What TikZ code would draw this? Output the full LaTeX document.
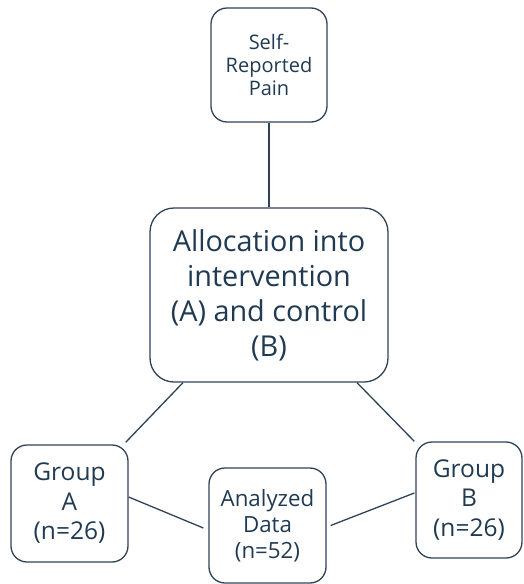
\documentclass[tikz,border=0pt]{standalone}
\usepackage{fontspec}
\setmainfont{Open Sans}
\definecolor{txt}{HTML}{1F3A52}
\definecolor{edge}{HTML}{2F4256}
\begin{document}
\begin{tikzpicture}[x=1pt,y=-1pt,
  box/.style={draw=edge, line width=1.3pt, rounded corners=16pt, align=center, text=txt, inner sep=2pt},
  conn/.style={draw=edge, line width=1.3pt}]
\useasboundingbox (0,0) rectangle (523,584);
\node[box, minimum width=116pt, minimum height=114pt, font=\fontsize{20}{23}\selectfont] (self) at (269,65) {Self-\\Reported\\Pain};
\node[box, rounded corners=24pt, minimum width=238pt, minimum height=174pt, font=\fontsize{28.8}{35}\selectfont] (alloc) at (269,295) {Allocation into\\intervention\\(A) and control\\(B)};
\node[box, minimum width=117pt, minimum height=117pt, font=\fontsize{24.5}{29.5}\selectfont] (ga) at (69.5,503.5) {Group\\A\\(n=26)};
\node[box, minimum width=117pt, minimum height=115pt, font=\fontsize{22.3}{26}\selectfont] (ad) at (267.5,525.5) {Analyzed\\Data\\(n=52)};
\node[box, minimum width=106pt, minimum height=116pt, font=\fontsize{24.5}{29.5}\selectfont] (gb) at (469,500) {Group\\B\\(n=26)};
\draw[conn] (self.south) -- (alloc.north);
\draw[conn] ([xshift=-86pt]alloc.south) -- ([xshift=-3pt,yshift=2pt]ga.north east);
\draw[conn] ([xshift=88pt]alloc.south) -- ([xshift=-1pt]gb.north west);
\draw[conn] ([yshift=6.5pt]ga.east) -- ([xshift=-5pt,yshift=-2.5pt]ad.west);
\draw[conn] ([xshift=4pt]ad.east) -- ([xshift=-1pt,yshift=7pt]gb.west);
\end{tikzpicture}
\end{document}
